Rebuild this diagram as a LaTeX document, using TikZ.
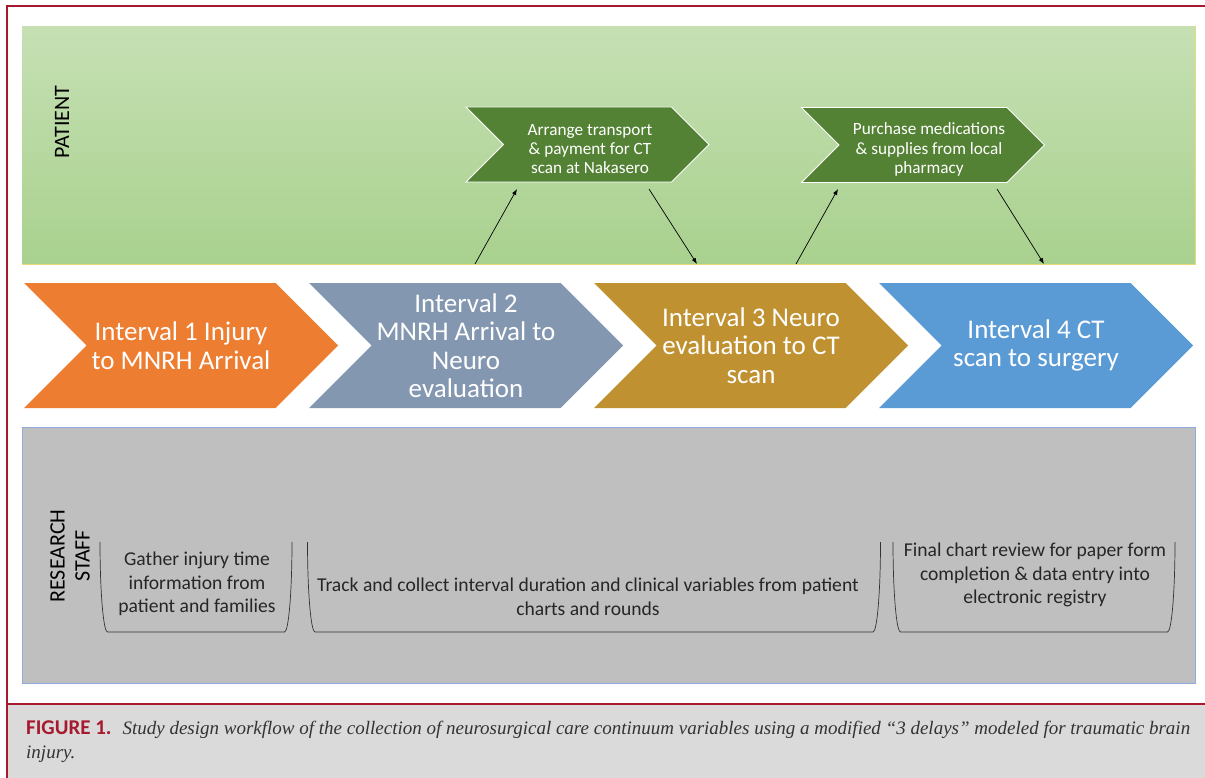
\documentclass[tikz,border=0pt]{standalone}
\usepackage{fontspec}
\setmainfont{Carlito}
\newfontfamily\capserif{Liberation Serif}
\usetikzlibrary{shapes.symbols,arrows.meta}
\definecolor{ivOrange}{HTML}{ED7D31}
\definecolor{ivSlate}{HTML}{8497B0}
\definecolor{ivGold}{HTML}{BF9130}
\definecolor{ivBlue}{HTML}{5B9BD5}
\definecolor{ptDark}{HTML}{548235}
\definecolor{ptTop}{HTML}{C6E0B4}
\definecolor{ptBot}{HTML}{A9D18E}
\definecolor{ptEdge}{HTML}{EAD97A}
\definecolor{staffGray}{HTML}{BFBFBF}
\definecolor{staffEdge}{HTML}{8FAADC}
\definecolor{capRed}{HTML}{A6192E}
\definecolor{capGray}{HTML}{DADADA}

\begin{document}
\begin{tikzpicture}[x=1pt,y=-1pt,
  interval/.style={signal,signal from=west,signal to=east,inner sep=0pt,
    minimum width=314pt,minimum height=125pt,text=white,align=center,
    font=\fontsize{27}{28.5}\selectfont},
  task/.style={signal,signal from=west,signal to=east,inner sep=0pt,
    minimum width=243pt,minimum height=75pt,fill=ptDark,draw=white,
    line width=0.8pt},
  taskText/.style={text=white,align=center,inner sep=0pt,
    font=\fontsize{17.2}{19.2}\selectfont},
  note/.style={align=center,text=black!85,font=\fontsize{19.6}{23.5}\selectfont},
  lane/.style={rotate=90,align=center,font=\fontsize{22}{25}\selectfont},
  arr/.style={-{Latex[length=6pt,width=4.5pt]},line width=0.7pt},
  cup/.style={line width=0.7pt,draw=black!80}]
  % page, frame and caption strip
  \useasboundingbox (0,0) rectangle (1205,778);
  \fill[capGray] (8,704) rectangle (1205,778);
  \draw[capRed,line width=2.2pt] (7,778) -- (7,6) -- (1205,6);
  \draw[capRed,line width=1.2pt] (7,704) -- (1205,704);

  % lanes
  \node[anchor=north west,inner sep=0pt,minimum width=1173pt,minimum height=238pt,
        top color=ptTop,bottom color=ptBot] (patient) at (22,26) {};
  \draw[ptEdge,line width=0.8pt] (patient.north east) -- (patient.south east) -- (patient.south west);
  \node[anchor=north west,inner sep=0pt,minimum width=1173pt,minimum height=256pt,
        fill=staffGray,draw=staffEdge,line width=0.8pt] (staff) at (22,427) {};
  \node[lane] (patientLbl) at (62,122) {PATIENT};
  \node[lane] (staffLbl) at (70,556) {RESEARCH\\STAFF};

  % the four intervals
  \node[interval,fill=ivOrange] (iv1) at (181,345.5) {Interval 1 Injury\\to MNRH Arrival};
  \node[interval,fill=ivSlate]  (iv2) at (466,345.5) {Interval 2\\MNRH Arrival to\\Neuro\\evaluation};
  \node[interval,fill=ivGold]   (iv3) at (751,345.5) {Interval 3 Neuro\\evaluation to CT\\scan};
  \node[interval,fill=ivBlue]   (iv4) at (1036,345.5) {Interval 4 CT\\scan to surgery};

  % patient tasks
  \node[task] (transport) at (587.5,144.5) {};
  \node[taskText] (transportTxt) at (590,149) {Arrange transport\\\& payment for CT\\scan at Nakasero};
  \node[task] (pharmacy) at (923,145) {};
  \node[taskText] (pharmacyTxt) at (929,149.5) {Purchase medications\\\& supplies from local\\pharmacy};
  \coordinate (upA0) at (475,264);  \coordinate (upA1) at (517,189);
  \coordinate (dnA0) at (649,189);  \coordinate (dnA1) at (697,264);
  \coordinate (upB0) at (796,264);  \coordinate (upB1) at (838,189);
  \coordinate (dnB0) at (997,189);  \coordinate (dnB1) at (1044,264);
  \draw[arr] (upA0) -- (upA1);
  \draw[arr] (dnA0) -- (dnA1);
  \draw[arr] (upB0) -- (upB1);
  \draw[arr] (dnB0) -- (dnB1);

  % research staff tasks
  \foreach \xl/\xr in {100/292,307.5/880.5,893/1175}
    \draw[cup] (\xl,542) .. controls (\xl,592) and (\xl+3.4,632) .. (\xl+7.5,632)
      -- (\xr-7.5,632) .. controls (\xr-3.4,632) and (\xr,592) .. (\xr,542);
  \node[note] (gather) at (197,584) {Gather injury time\\information from\\patient and families};
  \node[note] (track) at (588,597) {Track and collect interval duration and clinical variables from patient\\charts and rounds};
  \node[note] (review) at (1035,575) {Final chart review for paper form\\completion \& data entry into\\electronic registry};

  % caption
  \node[anchor=base west,inner sep=0pt,font=\fontsize{19}{24}\selectfont] (capA) at (26,734)
    {{\fontsize{21}{24}\selectfont\bfseries\color{capRed}FIGURE 1.}\hspace{11pt}{\capserif\itshape\color{black!80}Study design workflow of the collection of neurosurgical care continuum variables using a modified “3 delays” modeled for traumatic brain}};
  \node[anchor=base west,inner sep=0pt,font=\fontsize{19}{24}\selectfont] (capB) at (26,758)
    {\capserif\itshape\color{black!80}injury.};
\end{tikzpicture}
\end{document}
